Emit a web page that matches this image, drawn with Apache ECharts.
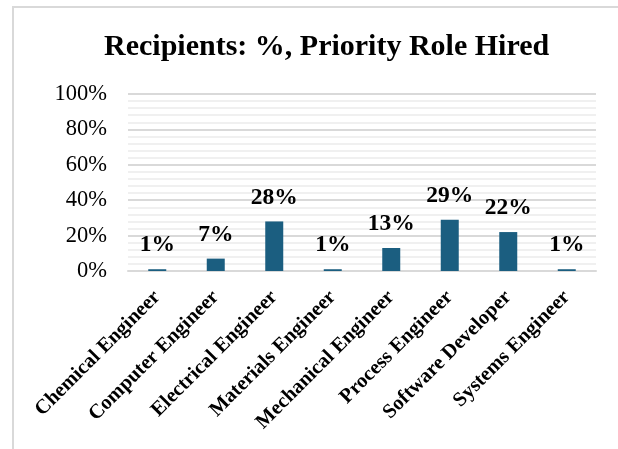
<!DOCTYPE html>
<html>
<head>
<meta charset="utf-8">
<script src="https://cdn.jsdelivr.net/npm/echarts@6/dist/echarts.min.js"></script>
<style>
  html, body { margin: 0; padding: 0; background: #fff; }
  #frame {
    position: absolute; left: 12px; top: 6px; width: 700px; height: 500px;
    border-left: 2px solid #d9d9d9; border-top: 2px solid #d9d9d9;
  }
  #main { position: absolute; left: 0; top: 0; width: 618px; height: 449px; }
</style>
</head>
<body>
<div id="frame"></div>
<div id="main"></div>
<script>
// chart data
var roles = [
  'Chemical Engineer', 'Computer Engineer', 'Electrical Engineer', 'Materials Engineer',
  'Mechanical Engineer', 'Process Engineer', 'Software Developer', 'Systems Engineer'
]
var hiredPct = [1, 7, 28, 1, 13, 29, 22, 1]
var yMin = 0
var yMax = 100
var yStep = 20

var serif = '"Liberation Serif", "DejaVu Serif", serif'

var chartDom = document.getElementById('main')
var myChart = echarts.init(chartDom, null, { renderer: 'canvas' })

var option = {
  animation: false,
  title: {
    text: 'Recipients: %, Priority Role Hired',
    left: 99,
    top: 27,
    textStyle: {
      fontFamily: serif,
      fontSize: 30,
      fontWeight: 'bold',
      color: '#000',
    },
  },
  grid: {
    left: 128,
    right: 22,
    top: 94,
    bottom: 178,
    containLabel: false,
  },
  xAxis: {
    type: 'category',
    data: roles,
    axisLine: { show: true, lineStyle: { color: '#d9d9d9', width: 2 } },
    axisTick: { show: false },
    axisLabel: {
      interval: 0,
      rotate: 45,
      margin: 23,
      fontFamily: serif,
      fontSize: 20.5,
      fontWeight: 'bold',
      color: '#000',
    },
  },
  yAxis: {
    type: 'value',
    min: yMin,
    max: yMax,
    interval: yStep,
    axisLine: { show: false },
    axisTick: { show: false },
    axisLabel: {
      formatter: '{value}%',
      margin: 21,
      fontFamily: serif,
      fontSize: 22.5,
      color: '#000',
    },
    splitLine: { show: true, lineStyle: { color: '#d9d9d9', width: 2 } },
    minorTick: { show: false, splitNumber: 5 },
    minorSplitLine: { show: true, lineStyle: { color: '#f0f0f0', width: 2 } },
  },
  series: [
    {
      type: 'bar',
      data: hiredPct,
      barWidth: 18,
      itemStyle: { color: '#1b5e80' },
      label: {
        show: true,
        position: 'top',
        distance: 12,
        formatter: '{c}%',
        fontFamily: serif,
        fontSize: 23.5,
        fontWeight: 'bold',
        color: '#000',
      },
    },
  ],
}

option && myChart.setOption(option)
</script>
</body>
</html>
